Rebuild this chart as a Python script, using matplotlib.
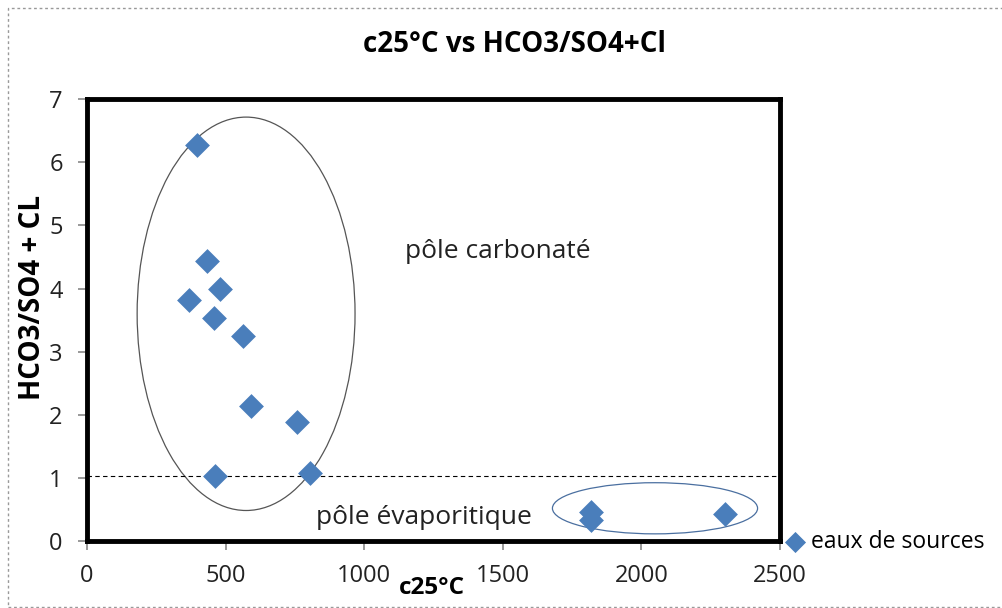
import matplotlib.pyplot as plt
from matplotlib.patches import Ellipse, Rectangle

# conductivity at 25°C vs HCO3/(SO4+Cl)
c25 = [397, 433, 480, 368, 458, 563, 592, 758, 462, 805, 1818, 1818, 2302]
ratio = [6.28, 4.44, 3.99, 3.82, 3.53, 3.25, 2.14, 1.89, 1.03, 1.08, 0.46, 0.33, 0.43]
x_ticks = [0, 500, 1000, 1500, 2000, 2500]
y_ticks = [0, 1, 2, 3, 4, 5, 6, 7]
limit = 1.03

plt.rcParams['font.family'] = ['Open Sans', 'DejaVu Sans']

fig = plt.figure(figsize=(10.03, 6.08), dpi=100)
ax = fig.add_axes([0.0867, 0.110, 0.691, 0.727])

ax.scatter(c25, ratio, marker='D', s=160, color='#4A7EBB', zorder=3,
           label='eaux de sources', linewidths=0)

ax.axhline(limit, color='black', lw=0.8, ls=(0, (4, 3)))

ax.add_patch(Ellipse((574, 3.6), 786, 6.23, fill=False, ec='#555555', lw=0.9))
ax.add_patch(Ellipse((2049, 0.52), 740, 0.81, fill=False, ec='#4A6FA0', lw=0.9))

ax.text(1483, 4.58, 'pôle carbonaté', fontsize=19, ha='center', va='center', color='#222222')
ax.text(1216, 0.38, 'pôle évaporitique', fontsize=19, ha='center', va='center', color='#222222')

ax.set_xlim(0, 2500)
ax.set_ylim(0, 7)
ax.set_xticks(x_ticks)
ax.set_yticks(y_ticks)
ax.tick_params(labelsize=17, color='#888888', length=6.5, width=1.2, direction='out',
               labelcolor='#222222')
ax.tick_params(axis='x', pad=10)
ax.tick_params(axis='y', pad=11)
for s in ax.spines.values():
    s.set_linewidth(3.5)
    s.set_color('black')

fig.suptitle('c25°C vs HCO3/SO4+Cl', x=0.513, y=0.926, va='center',
             fontsize=20, fontweight='bold')
ax.set_xlabel('c25°C', fontsize=17.5, fontweight='bold')
ax.xaxis.set_label_coords(0.498, -0.08)
ax.set_ylabel('HCO3/SO4 + CL', fontsize=20, fontweight='bold')
ax.yaxis.set_label_coords(-0.058, 0.552)

ax.legend(loc='center left', bbox_to_anchor=(0.785, 0.108), bbox_transform=fig.transFigure,
          frameon=False, fontsize=16.5, handlelength=0.7, handletextpad=0.35,
          markerscale=0.85, borderaxespad=0, borderpad=0)

fig.add_artist(Rectangle((0.008, 0.0016), 1.0, 0.985, transform=fig.transFigure,
                         fill=False, ec='#999999', lw=1, ls=(0, (2, 2))))

fig.savefig('out.png', dpi=100)
